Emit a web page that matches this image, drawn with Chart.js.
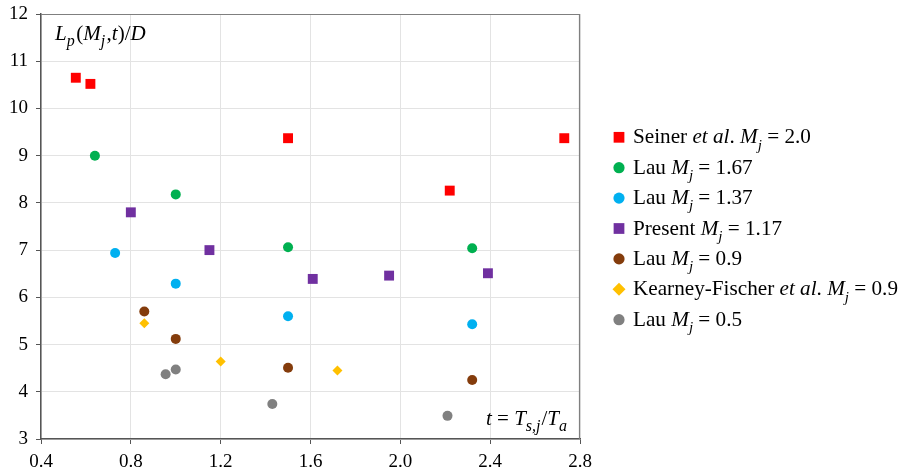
<!DOCTYPE html>
<html>
<head>
<meta charset="utf-8">
<script src="https://cdn.jsdelivr.net/npm/chart.js@4/dist/chart.umd.min.js"></script>
<style>
  html, body { margin: 0; padding: 0; background: #fff; }
  #wrap { width: 904px; height: 475px; }
</style>
</head>
<body>
<div id="wrap"><canvas id="chart" width="904" height="475"></canvas></div>
<script>
// t = Ts,j / Ta  vs  Lp(Mj,t)/D
const SEINER_20   = [[0.555, 10.65], [0.62, 10.52], [1.50, 9.37], [2.22, 8.26], [2.73, 9.37]];
const LAU_167     = [[0.64, 9.0], [1.0, 8.18], [1.50, 7.06], [2.32, 7.04]];
const LAU_137     = [[0.73, 6.94], [1.0, 6.29], [1.50, 5.60], [2.32, 5.43]];
const PRESENT_117 = [[0.80, 7.80], [1.15, 7.0], [1.61, 6.39], [1.95, 6.46], [2.39, 6.51]];
const LAU_09      = [[0.86, 5.70], [1.0, 5.12], [1.50, 4.51], [2.32, 4.25]];
const KF_09       = [[0.86, 5.45], [1.20, 4.64], [1.72, 4.45]];
const LAU_05      = [[0.955, 4.37], [1.0, 4.47], [1.43, 3.74], [2.21, 3.49]];

const LABELS = [
  "Seiner <i>et al</i>. <i>M<sub>j</sub></i> = 2.0",
  "Lau <i>M<sub>j</sub></i> = 1.67",
  "Lau <i>M<sub>j</sub></i> = 1.37",
  "Present <i>M<sub>j</sub></i> = 1.17",
  "Lau <i>M<sub>j</sub></i> = 0.9",
  "Kearney-Fischer <i>et al</i>. <i>M<sub>j</sub></i> = 0.9",
  "Lau <i>M<sub>j</sub></i> = 0.5"
];
const COLORS = ["#ff0000", "#00b050", "#00b0f0", "#7030a0", "#843c0c", "#ffc000", "#808080"];
const STYLES = ["rect", "circle", "circle", "rect", "circle", "rectRot", "circle"];
const SERIES = [SEINER_20, LAU_167, LAU_137, PRESENT_117, LAU_09, KF_09, LAU_05];

const X_MIN = 0.4, X_MAX = 2.8, X_STEP = 0.4;
const Y_MIN = 3, Y_MAX = 12, Y_STEP = 1;

const Y_TITLE = "<i>L<sub>p</sub></i>(<i>M<sub>j</sub></i>,<i>t</i>)/<i>D</i>";
const X_TITLE = "<i>t</i> = <i>T<sub>s,j</sub></i>/<i>T<sub>a</sub></i>";

const FONT = '"Liberation Serif", "Times New Roman", serif';

function plain(s){ return s.replace(/<[^>]+>/g, ""); }

function parseRich(s){
  const segs = [];
  let italic = false, sub = false, m;
  const re = /<(\/?)(i|sub)>|([^<]+)/g;
  while ((m = re.exec(s))){
    if (m[3]) segs.push({ t: m[3], italic, sub });
    else if (m[2] === "i") italic = !m[1];
    else sub = !m[1];
  }
  return segs;
}

function segFont(seg, size, subScale){
  const sz = seg.sub ? Math.round(size * subScale) : size;
  return (seg.italic ? "italic " : "") + sz + "px " + FONT;
}

function richWidth(ctx, s, size, subScale, gap){
  let w = 0;
  for (const seg of parseRich(s)){
    ctx.font = segFont(seg, size, subScale);
    w += ctx.measureText(seg.t).width + (seg.sub ? gap : 0);
  }
  return w;
}

function drawRich(ctx, s, x, y, size, subScale, gap){
  ctx.save();
  ctx.fillStyle = "#000";
  ctx.textBaseline = "alphabetic";
  ctx.textAlign = "left";
  for (const seg of parseRich(s)){
    ctx.font = segFont(seg, size, subScale);
    ctx.fillText(seg.t, x, y + (seg.sub ? size * 0.3 : 0));
    x += ctx.measureText(seg.t).width + (seg.sub ? gap : 0);
  }
  ctx.restore();
}

const frame = {
  id: "frame",
  beforeDatasetsDraw(chart){
    const { ctx, chartArea: a } = chart;
    ctx.save();
    ctx.strokeStyle = "#7f7f7f";
    ctx.lineWidth = 1.2;
    ctx.beginPath();
    ctx.moveTo(a.left, a.top + 0.5);
    ctx.lineTo(a.right - 0.5, a.top + 0.5);
    ctx.lineTo(a.right - 0.5, a.bottom);
    ctx.stroke();
    ctx.restore();
  },
  afterDraw(chart){
    const { ctx, chartArea: a } = chart;
    drawRich(ctx, Y_TITLE, a.left + 14, a.top + 26, 21, 0.78, 1.5);
    const w = richWidth(ctx, X_TITLE, 21, 0.78, 1);
    drawRich(ctx, X_TITLE, a.right - 12 - w, a.bottom - 14, 21, 0.78, 1);

    // legend
    chart.data.datasets.forEach((ds, i) => {
      const y = 137.3 + i * 30.4;
      ctx.save();
      ctx.fillStyle = ds.backgroundColor;
      ctx.strokeStyle = ds.backgroundColor;
      const r = ds.pointStyle === "rect" ? 7.6 : ds.pointStyle === "rectRot" ? 6.5 : 5.6;
      Chart.helpers.drawPoint(ctx, { pointStyle: ds.pointStyle, radius: r, rotation: 0, borderWidth: 0 }, 619, y);
      ctx.restore();
      drawRich(ctx, LABELS[i], 633, y + 6, 21.2, 0.72, 0);
    });
  }
};

const datasets = SERIES.map((pts, i) => ({
  label: plain(LABELS[i]),
  data: pts.map(p => ({ x: p[0], y: p[1] })),
  backgroundColor: COLORS[i],
  borderColor: COLORS[i],
  borderWidth: 0,
  pointStyle: STYLES[i],
  pointRadius: STYLES[i] === "rect" ? 7 : 5,
  pointHoverRadius: 5
}));

new Chart(document.getElementById("chart"), {
  type: "scatter",
  data: { datasets },
  plugins: [frame],
  options: {
    responsive: false,
    animation: false,
    devicePixelRatio: 1,
    layout: { padding: { top: 14, right: 324, left: 0, bottom: 0 } },
    plugins: { legend: { display: false }, tooltip: { enabled: false } },
    scales: {
      x: {
        type: "linear", min: X_MIN, max: X_MAX,
        afterFit: s => { s.height = 36; },
        ticks: {
          stepSize: X_STEP, padding: 7, color: "#000",
          font: { family: FONT, size: 19 },
          callback: v => v.toFixed(1)
        },
        grid: { color: "#e3e3e3", tickColor: "#555", tickLength: 5, lineWidth: 1 },
        border: { color: "#555", width: 1.5 }
      },
      y: {
        type: "linear", min: Y_MIN, max: Y_MAX,
        afterFit: s => { s.width = 41; s.paddingTop = 0; s.paddingBottom = 0; },
        ticks: {
          stepSize: Y_STEP, padding: 8, color: "#000",
          font: { family: FONT, size: 19 }
        },
        grid: { color: "#e3e3e3", tickColor: "#555", tickLength: 5, lineWidth: 1 },
        border: { color: "#555", width: 1.5 }
      }
    }
  }
});
</script>
</body>
</html>
